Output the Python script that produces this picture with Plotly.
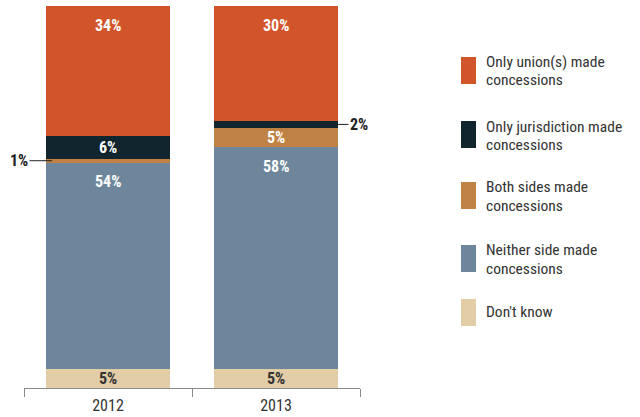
import plotly.graph_objects as go

years = ["2012", "2013"]
series_names = ["Don't know", "Neither side made concessions", "Both sides made concessions",
                "Only jurisdiction made concessions", "Only union(s) made concessions"]
legend_lines = [["Don't know"], ["Neither side made", "concessions"], ["Both sides made", "concessions"],
                ["Only jurisdiction made", "concessions"], ["Only union(s) made", "concessions"]]
dont_know = [5, 5]
neither = [54, 58]
both = [1, 5]
jurisdiction = [6, 2]
union = [34, 30]
values = [dont_know, neither, both, jurisdiction, union]
colors = ["#E2CDA7", "#6E869C", "#C08244", "#11252F", "#D2542A"]
label_colors = ["#333333", "white", "white", "white", "white"]

FONT = "Liberation Sans Narrow, Roboto Condensed, Arial Narrow, sans-serif"

W, H = 640, 417
L, R, T, B = 24, 280, 6, 29
PW, PH = W - L - R, H - T - B

def px_x(x):
    return (x - L) / PW

def px_y(y):
    return (H - B - y) / PH

fig = go.Figure()
for name, vals, col in zip(series_names, values, colors):
    fig.add_trace(go.Bar(
        x=years, y=vals, name=name, marker=dict(color=col, line=dict(width=0)),
        showlegend=False, hoverinfo="skip",
    ))

# value labels
for i, yr in enumerate(years):
    cum = 0
    for k, vals in enumerate(values):
        v = vals[i]
        if v >= 10:
            fig.add_annotation(x=i, y=cum + v, xref="x", yref="y", text=f"<b>{v}%</b>",
                               showarrow=False, yanchor="middle", yshift=-19,
                               font=dict(family=FONT, size=16, color=label_colors[k]))
        elif v >= 3:
            fig.add_annotation(x=i, y=cum + v / 2, xref="x", yref="y", text=f"<b>{v}%</b>",
                               showarrow=False, yanchor="middle",
                               font=dict(family=FONT, size=16, color=label_colors[k]))
        else:
            mid = cum + v / 2
            if i == 0:
                fig.add_annotation(x=i - 0.333, y=mid, xref="x", yref="y", text=f"<b>{v}%</b>",
                                   showarrow=True, arrowhead=0, arrowwidth=1, arrowcolor="#222",
                                   ax=-33, ay=0, font=dict(family=FONT, size=16, color="#222"))
            else:
                fig.add_annotation(x=i + 0.25, y=mid, xref="x", yref="y", text=f"<b>{v}%</b>",
                                   showarrow=True, arrowhead=0, arrowwidth=1, arrowcolor="#222",
                                   ax=41, ay=0, font=dict(family=FONT, size=16, color="#222"))
        cum += v

# legend drawn manually (top to bottom: union first)
leg_tops = [57, 121, 182, 245, 299]
for j, idx in enumerate([4, 3, 2, 1, 0]):
    top = leg_tops[j]
    fig.add_shape(type="rect", xref="paper", yref="paper",
                  x0=px_x(461), x1=px_x(476), y0=px_y(top + 27), y1=px_y(top),
                  fillcolor=colors[idx], line=dict(width=0))
    lines = legend_lines[idx]
    offs = [5.5, 23.5] if len(lines) == 2 else [13]
    for line, off in zip(lines, offs):
        fig.add_annotation(xref="paper", yref="paper", x=px_x(484), y=px_y(top + off),
                           xanchor="left", yanchor="middle", align="left", showarrow=False,
                           text=line, font=dict(family=FONT, size=15.5, color="#333333"))

fig.update_layout(
    barmode="stack", bargap=0.262,
    width=W, height=H, margin=dict(l=L, r=R, t=T, b=B, pad=0),
    plot_bgcolor="white", paper_bgcolor="white",
    xaxis=dict(type="category", range=[-0.5, 1.5], fixedrange=True, automargin=False,
               tickson="boundaries", ticks="outside", ticklen=8, ticklabelstandoff=3,
               tickcolor="#8a8a8a", showline=True, linecolor="#8a8a8a", linewidth=1,
               tickfont=dict(family=FONT, size=16, color="#333333"), showgrid=False),
    yaxis=dict(range=[0, 100], visible=False, showgrid=False, fixedrange=True),
)

fig.write_html("out.html", config={"displayModeBar": False},
               post_script="document.body.style.margin='0px';")
